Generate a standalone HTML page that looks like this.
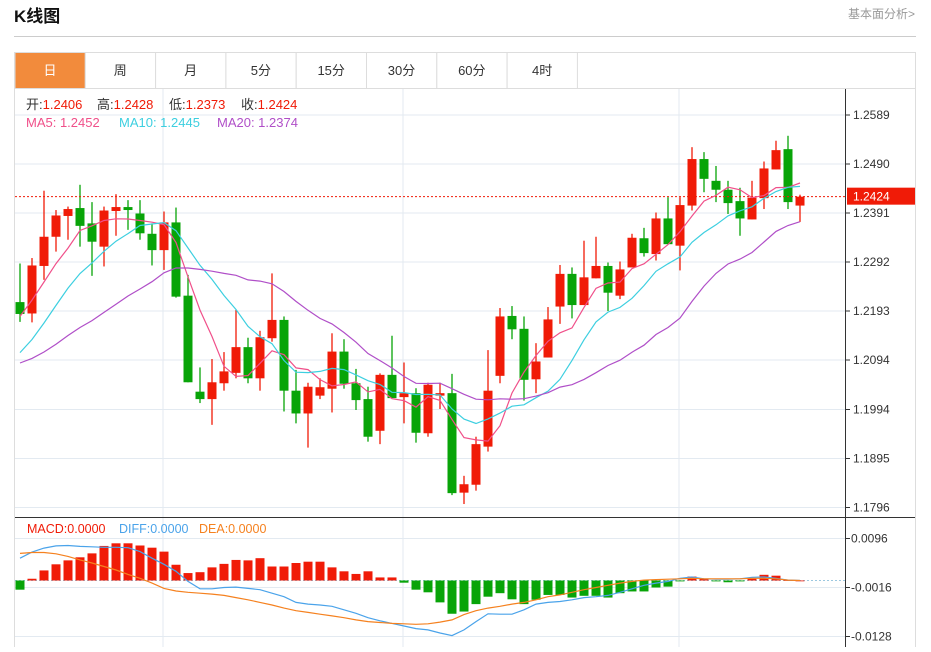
<!DOCTYPE html>
<html><head><meta charset="utf-8">
<style>
body{margin:0;background:#fff;width:931px;height:647px;overflow:hidden;font-family:"Liberation Sans","Noto Sans CJK SC",sans-serif;}
svg text{font-family:"Liberation Sans","Noto Sans CJK SC",sans-serif;}
</style></head>
<body>
<svg id="c" width="931" height="647" xmlns="http://www.w3.org/2000/svg">
  <text x="14" y="22" font-size="17" font-weight="bold" fill="#111">K线图</text>
  <text x="915" y="18" font-size="12" fill="#999" text-anchor="end">基本面分析&gt;</text>
  <line x1="14" y1="36.5" x2="916" y2="36.5" stroke="#ccc"/>
  <rect x="14.5" y="52.5" width="901" height="600" fill="none" stroke="#ddd"/>
  <g id="tabs"></g>
  <line x1="15" y1="88.5" x2="915" y2="88.5" stroke="#ddd"/>
  <g id="grid"></g>
  <g id="macdg"></g>
  <g id="candles"></g>
  <g id="mas"></g>
  <g id="axis"></g>
  <g font-size="13">
    <text y="109"><tspan x="26" fill="#333">开:</tspan><tspan fill="#f01b07">1.2406</tspan><tspan x="97" fill="#333">高:</tspan><tspan fill="#f01b07">1.2428</tspan><tspan x="169" fill="#333">低:</tspan><tspan fill="#f01b07">1.2373</tspan><tspan x="241" fill="#333">收:</tspan><tspan fill="#f01b07">1.2424</tspan></text>
    <text y="127"><tspan x="26" fill="#f0508a">MA5: 1.2452</tspan><tspan x="119" fill="#3dcfe0">MA10: 1.2445</tspan><tspan x="217" fill="#b04fc8">MA20: 1.2374</tspan></text>
  </g>
  <text y="533" font-size="12.5"><tspan x="27" fill="#f01b07">MACD:0.0000</tspan><tspan x="119" fill="#4aa3ea">DIFF:0.0000</tspan><tspan x="199" fill="#f5811f">DEA:0.0000</tspan></text>
</svg>
<script>
const tabLabels = ['日','周','月','5分','15分','30分','60分','4时'];
const history = [1.2100,1.2085,1.2070,1.2050,1.2040,1.2055,1.2065,1.2075,1.2060,1.2070,1.2020,1.2010,1.2030,1.2050,1.2070,1.2120,1.2160,1.2200,1.2243];
const opens  = [1.2211,1.2188,1.2284,1.2343,1.2385,1.2401,1.2370,1.2323,1.2395,1.2403,1.2390,1.2349,1.2316,1.2372,1.2224,1.2030,1.2015,1.2047,1.2068,1.2120,1.2057,1.2138,1.2175,1.2032,1.1986,1.2022,1.2036,1.2111,1.2047,1.2015,1.1951,1.2064,1.2019,1.2027,1.1946,1.2022,1.2027,1.1826,1.1842,1.1919,1.2062,1.2183,1.2157,1.2055,1.2099,1.2202,1.2268,1.2205,1.2259,1.2284,1.2224,1.2281,1.2340,1.2308,1.2380,1.2325,1.2406,1.2500,1.2456,1.2438,1.2415,1.2378,1.2421,1.2479,1.2520,1.2406];
const closes = [1.2187,1.2285,1.2343,1.2386,1.2399,1.2365,1.2333,1.2396,1.2403,1.2397,1.2350,1.2316,1.2372,1.2222,1.2049,1.2015,1.2049,1.2071,1.2120,1.2057,1.2140,1.2175,1.2032,1.1986,1.2040,1.2039,1.2111,1.2046,1.2013,1.1939,1.2064,1.2017,1.2027,1.1947,1.2044,1.2027,1.1825,1.1843,1.1924,1.2032,1.2182,1.2156,1.2054,1.2091,1.2176,1.2268,1.2205,1.2261,1.2284,1.2230,1.2277,1.2341,1.2310,1.2380,1.2328,1.2407,1.2500,1.2460,1.2438,1.2411,1.2380,1.2422,1.2481,1.2518,1.2413,1.2424];
const highs  = [1.2289,1.2300,1.2436,1.2397,1.2404,1.2448,1.2413,1.2404,1.2429,1.2417,1.2417,1.2370,1.2394,1.2402,1.2266,1.2079,1.2096,1.2110,1.2195,1.2139,1.2153,1.2269,1.2182,1.2074,1.2048,1.2057,1.2148,1.2136,1.2076,1.2040,1.2067,1.2143,1.2089,1.2037,1.2048,1.2048,1.2066,1.1860,1.1939,1.2114,1.2199,1.2203,1.2182,1.2128,1.2201,1.2286,1.2281,1.2335,1.2343,1.2291,1.2293,1.2349,1.2361,1.2392,1.2423,1.2423,1.2524,1.2514,1.2486,1.2456,1.2442,1.2456,1.2495,1.2537,1.2547,1.2428];
const lows   = [1.2171,1.2170,1.2256,1.2313,1.2337,1.2323,1.2264,1.2283,1.2345,1.2357,1.2337,1.2285,1.2276,1.2220,1.2049,1.2007,1.1963,1.2032,1.2057,1.2047,1.2032,1.2131,1.1990,1.1966,1.1917,1.2015,1.1988,1.2036,1.1993,1.1929,1.1924,1.2017,1.1966,1.1927,1.1939,1.1995,1.1821,1.1803,1.1830,1.1909,1.2047,1.2136,1.2012,1.2027,1.2099,1.2167,1.2178,1.2205,1.2259,1.2193,1.2217,1.2281,1.2303,1.2295,1.2328,1.2275,1.2396,1.2433,1.2413,1.2389,1.2345,1.2378,1.2399,1.2479,1.2399,1.2373];
const priceTicks = [1.2589,1.2490,1.2391,1.2292,1.2193,1.2094,1.1994,1.1895,1.1796];
const lastPrice = 1.2424;
const macdVals = [-0.0021,0.0004,0.0023,0.0037,0.0046,0.0053,0.0062,0.0079,0.0085,0.0085,0.0080,0.0075,0.0066,0.0036,0.0017,0.0019,0.0030,0.0038,0.0047,0.0046,0.0051,0.0032,0.0032,0.0040,0.0043,0.0043,0.0030,0.0021,0.0015,0.0021,0.0007,0.0007,-0.0005,-0.0021,-0.0027,-0.0050,-0.0076,-0.0071,-0.0054,-0.0037,-0.0029,-0.0043,-0.0054,-0.0044,-0.0033,-0.0033,-0.0039,-0.0035,-0.0035,-0.0039,-0.0029,-0.0025,-0.0025,-0.0016,-0.0014,-0.0002,0.0009,0.0004,-0.0002,-0.0004,-0.0002,0.0004,0.0013,0.0011,0.0001,0.0000];
const diffVals = [0.0051,0.0065,0.0074,0.0079,0.0080,0.0078,0.0077,0.0076,0.0076,0.0075,0.0066,0.0051,0.0037,0.0021,-0.0002,-0.0019,-0.0019,-0.0016,-0.0015,-0.0018,-0.0021,-0.0029,-0.0037,-0.0050,-0.0054,-0.0056,-0.0059,-0.0067,-0.0075,-0.0085,-0.0092,-0.0098,-0.0104,-0.0110,-0.0113,-0.0120,-0.0126,-0.0113,-0.0094,-0.0076,-0.0077,-0.0077,-0.0067,-0.0054,-0.0050,-0.0048,-0.0044,-0.0039,-0.0037,-0.0034,-0.0027,-0.0019,-0.0011,-0.0006,-0.0002,0.0005,0.0008,0.0004,0.0003,0.0003,0.0004,0.0007,0.0008,0.0005,0.0001,0.0000];
const deaVals  = [0.0062,0.0064,0.0064,0.0061,0.0055,0.0047,0.0040,0.0032,0.0024,0.0014,0.0005,-0.0006,-0.0018,-0.0024,-0.0027,-0.0029,-0.0031,-0.0034,-0.0039,-0.0044,-0.0050,-0.0056,-0.0063,-0.0069,-0.0073,-0.0077,-0.0081,-0.0085,-0.0090,-0.0094,-0.0096,-0.0098,-0.0099,-0.0100,-0.0099,-0.0095,-0.0090,-0.0078,-0.0069,-0.0063,-0.0059,-0.0054,-0.0050,-0.0044,-0.0037,-0.0033,-0.0027,-0.0021,-0.0016,-0.0011,-0.0006,-0.0002,0.0001,0.0002,0.0003,0.0004,0.0005,0.0004,0.0004,0.0004,0.0004,0.0005,0.0005,0.0004,0.0001,0.0000];
const macdTicks = [0.0096,-0.0016,-0.0128];

const NS='http://www.w3.org/2000/svg';
function mk(tag,attrs,parent){const e=document.createElementNS(NS,tag);for(const k in attrs)e.setAttribute(k,attrs[k]);parent.appendChild(e);return e;}
const RED='#f01b07', GREEN='#08a408';
const xOf = i => 20 + 12*i;
const yP = p => 115 + (1.2589 - p)/0.0099*49;
const yM = v => 580.5 - v/0.0112*49;

const tabs=document.getElementById('tabs');
tabLabels.forEach((t,i)=>{
  const x=15+70.3*i;
  const r=mk('rect',{x:x,y:52.5,width:70.3,height:36,fill:i===0?'#f28b3c':'#fff',stroke:'#ddd'},tabs);
  
  
  const tx=mk('text',{x:x+35,y:75,'font-size':13,'text-anchor':'middle',fill:i===0?'#fff':'#333'},tabs);
  tx.textContent=t;
  
  
});

const grid=document.getElementById('grid');
priceTicks.forEach(p=>{
  const l=mk('line',{x1:15,x2:845,y1:yP(p),y2:yP(p),stroke:'#e3eaf1'},grid);
  
  
});
macdTicks.forEach(v=>{
  const l=mk('line',{x1:15,x2:845,y1:yM(v),y2:yM(v),stroke:'#e3eaf1'},grid);
  
  
});
[163,403,679].forEach(x=>{
  const l=mk('line',{x1:x,x2:x,y1:89,y2:647,stroke:'#e3eaf1'},grid);
  
  
});
const sep=mk('line',{x1:15,x2:915,y1:517.5,y2:517.5,stroke:'#333'},grid);



const cg=document.getElementById('candles');
const clip=mk('clipPath',{id:'pc'},cg);mk('rect',{x:15,y:89,width:830,height:428},clip);
cg.setAttribute('clip-path','url(#pc)');
closes.forEach((c,i)=>{
  const o=opens[i],col=c>=o?RED:GREEN,x=xOf(i);
  const w=mk('line',{x1:x,x2:x,y1:yP(highs[i]),y2:yP(lows[i]),stroke:col,'stroke-width':1.3},cg);
  
  
  const top=yP(Math.max(o,c)),h=Math.max(1.5,Math.abs(yP(o)-yP(c)));
  const b=mk('rect',{x:x-4.5,y:top,width:9,height:h,fill:col},cg);
  
  
});
const pl=mk('line',{x1:15,x2:845,y1:yP(lastPrice),y2:yP(lastPrice),stroke:RED,'stroke-dasharray':'2,2'},cg);



const all=history.concat(closes),H=history.length;
const mg=document.getElementById('mas');
mg.setAttribute('clip-path','url(#pc)');
[[5,'#f0508a','ma5-line'],[10,'#3dcfe0','ma10-line'],[20,'#b04fc8','ma20-line']].forEach(([n,col,name])=>{
  const pts=closes.map((_,i)=>{let s=0;for(let k=0;k<n;k++)s+=all[H+i-k];return xOf(i)+','+yP(s/n).toFixed(1);});
  const p=mk('polyline',{points:pts.join(' '),fill:'none',stroke:col,'stroke-width':1.2},mg);
  
  
});

const m=document.getElementById('macdg');
const z=mk('line',{x1:15,x2:845,y1:yM(0),y2:yM(0),stroke:'#9cc8e0','stroke-dasharray':'2,2'},m);


macdVals.forEach((v,i)=>{
  const y0=yM(0),y1=yM(v);
  const r=mk('rect',{x:xOf(i)-4.5,y:Math.min(y0,y1),width:9,height:Math.max(0.8,Math.abs(y1-y0)),fill:v>=0?RED:GREEN},m);
  
  
});
[[diffVals,'#4aa3ea','diff-line'],[deaVals,'#f5811f','dea-line']].forEach(([arr,col,name])=>{
  const p=mk('polyline',{points:arr.map((v,i)=>xOf(i)+','+yM(v).toFixed(1)).join(' '),fill:'none',stroke:col,'stroke-width':1.2},m);
  
  
});

const ax=document.getElementById('axis');
const al=mk('line',{x1:845.5,x2:845.5,y1:89,y2:647,stroke:'#333'},ax);


priceTicks.forEach(p=>{
  const y=yP(p);
  mk('line',{x1:845,x2:850,y1:y,y2:y,stroke:'#333'},ax);
  const t=mk('text',{x:853,y:y+4,'font-size':12,fill:'#333'},ax);
  t.textContent=p.toFixed(4);
  
  
});
macdTicks.forEach(v=>{
  const y=yM(v);
  mk('line',{x1:845,x2:850,y1:y,y2:y,stroke:'#333'},ax);
  const t=mk('text',{x:851,y:y+4,'font-size':12,fill:'#333'},ax);
  t.textContent=v.toFixed(4);
  
  
});
const ly=yP(lastPrice);
const lb=mk('rect',{x:847,y:ly-9,width:68,height:17,fill:RED},ax);


const lt=mk('text',{x:853,y:ly+4,'font-size':12,fill:'#fff'},ax);
lt.textContent=lastPrice.toFixed(4);


</script>
</body></html>
